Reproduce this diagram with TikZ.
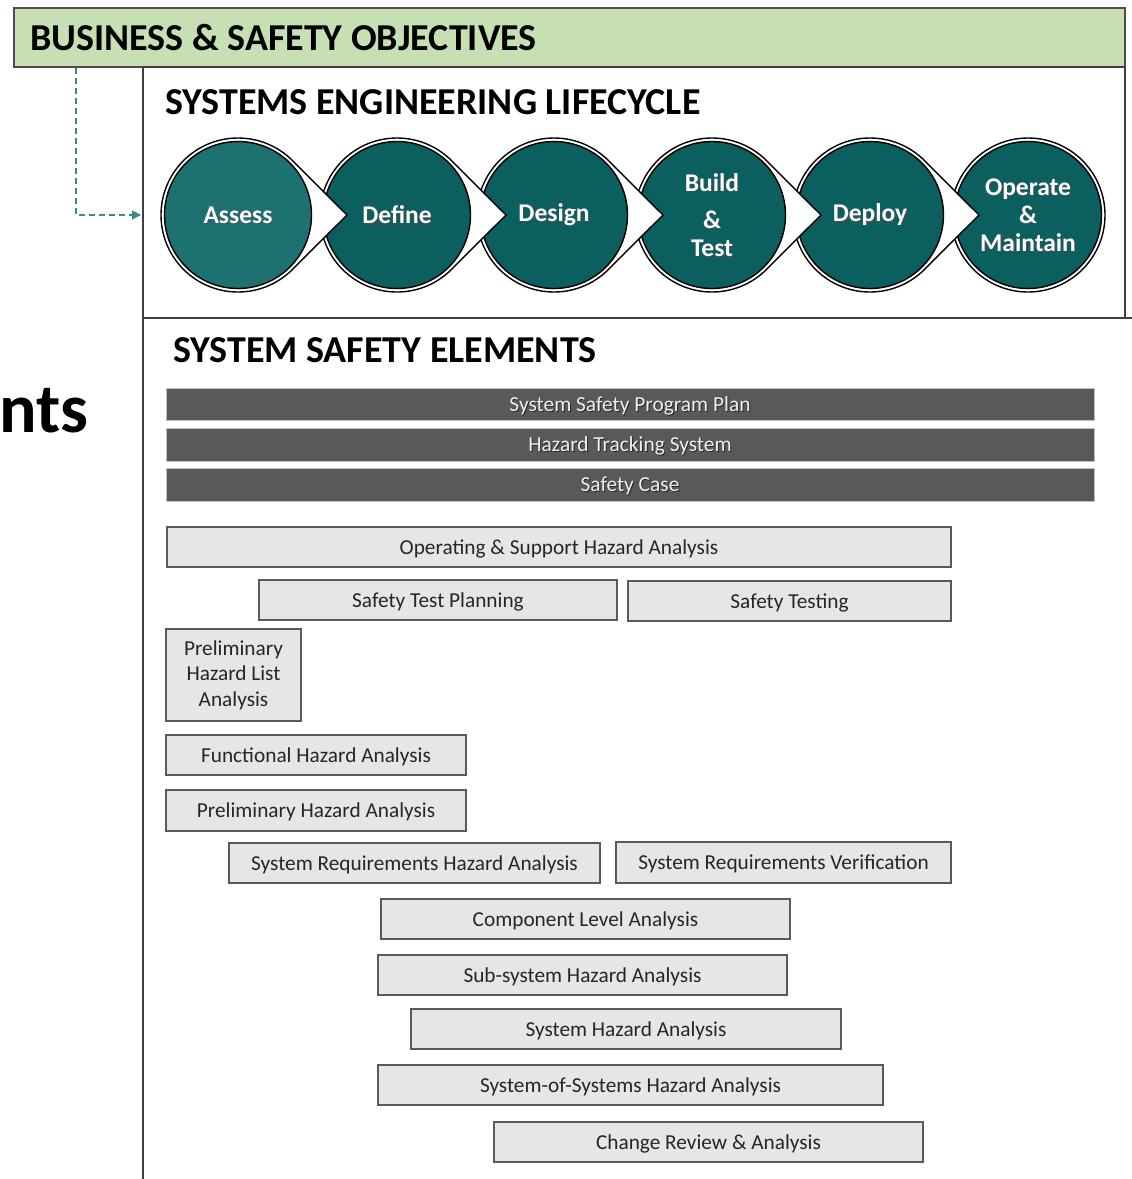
\documentclass[tikz,border=0pt]{standalone}
\usepackage{fontspec}
\setmainfont{Carlito}
\usetikzlibrary{arrows.meta,calc}
\definecolor{bannergreen}{HTML}{C6E0B4}
\definecolor{tealA}{HTML}{1E7171}
\definecolor{tealB}{HTML}{0B5F5F}
\definecolor{barfill}{HTML}{595959}
\definecolor{boxfill}{HTML}{E7E6E6}
\definecolor{boxline}{HTML}{5A5A5A}
\definecolor{dashteal}{HTML}{3A8A8C}
\definecolor{boxtext}{HTML}{262626}
\newcommand\lcstep[4]{%
  \coordinate (#3c) at (#1,215);
  \filldraw[fill=white, draw=black, line width=1.4] (#1+109,215) -- ($(#3c)+(45:77)$) arc[start angle=45,end angle=315,radius=77] -- cycle;
  \node[lcircle, fill=#2] (#3) at (#3c) {};
  \node[lctext, text=black!70, align=center, opacity=0.7] at ($(#3c)+(1.2,1.2)$) {#4};
  \node[lctext, align=center] at (#3c) {#4};
}
\begin{document}
\begin{tikzpicture}[x=1pt,y=-1pt,
  lcircle/.style={circle, draw=black, line width=1.4, minimum size=147, inner sep=0},
  lctext/.style={text=white, font=\bfseries\fontsize{25.5}{28}\selectfont, inner sep=0},
  title/.style={anchor=base west, inner sep=0, font=\bfseries\fontsize{38}{40}\selectfont},
  bar/.style={draw=black!25, line width=0.8, fill=barfill, inner sep=0},
  bartext/.style={font=\fontsize{21.4}{24}\selectfont, inner sep=0},
  ebox/.style={draw=boxline, line width=1.2, fill=boxfill, text=boxtext, font=\fontsize{21.3}{25.5}\selectfont, inner sep=0, align=center},
  sbox/.style={ebox, text height=17, text depth=3},
  frame/.style={draw=black!75, line width=1.2}]
\useasboundingbox (0,0) rectangle (1132,1179);

% banner
\node[draw=black!70, line width=1.2, fill=bannergreen, minimum width=1111, minimum height=59, inner sep=0] (banner) at (569.5,37.5) {};
\node[title] (bantitle) at (30,50) {BUSINESS \& SAFETY OBJECTIVES};

% lifecycle frame
\node[frame, minimum width=982, minimum height=251, inner sep=0] (life) at (634,192.5) {};
\node[title] (lifetitle) at (165,114) {SYSTEMS ENGINEERING LIFECYCLE};

% dashed connector
\coordinate (dstart) at (76,68);
\coordinate (dbend) at (76,215);
\coordinate (dend) at (141,215);
\draw[dashteal, dash pattern=on 6pt off 4pt, line width=1.2, -{Triangle[length=9,width=9]}] (dstart) -- (dbend) -- (dend);

% lifecycle steps (right to left for overlap)
\coordinate (operatec) at (1028,215);
\filldraw[fill=white, draw=black, line width=1.4] (operatec) circle[radius=77];
\node[lcircle, fill=tealB] (operate) at (operatec) {};
\node[lctext, text=black!70, align=center, opacity=0.7] at ($(operatec)+(1.2,1.2)$) {Operate\\\&\\Maintain};
\node[lctext, align=center] at (operatec) {Operate\\\&\\Maintain};
\lcstep{870}{tealB}{deploy}{Deploy}
\lcstep{712}{tealB}{build}{Build\\[9pt]\&\\Test}
\lcstep{554}{tealB}{design}{Design}
\lcstep{397}{tealB}{define}{Define}
\lcstep{238}{tealA}{assess}{Assess}

% safety elements frame
\coordinate (sfTL) at (143,318);
\coordinate (sfBL) at (143,1179);
\coordinate (sfTR) at (1132,318);
\draw[frame] (sfBL) -- (sfTL) -- (sfTR);
\node[title] (saftitle) at (173,362) {SYSTEM SAFETY ELEMENTS};

% cut-off heading at left
\node[anchor=base west, inner sep=0, font=\bfseries\fontsize{70}{74}\selectfont] (nts) at (-1,432) {nts};

% dark bars
\node[bar, minimum width=928, minimum height=32] (bar1) at (630,404) {};
\node[bar, minimum width=928, minimum height=33] (bar2) at (630,444.5) {};
\node[bar, minimum width=928, minimum height=33] (bar3) at (630,484.5) {};
\foreach \n/\t in {bar1/System Safety Program Plan, bar2/Hazard Tracking System, bar3/Safety Case}{
  \node[bartext, text=black, opacity=0.55] at ($(\n)+(1,2.5)$) {\t};
  \node[bartext, text=white!94!black] at ($(\n)+(0,1.5)$) {\t};
}

% element boxes
\node[sbox, minimum width=784, minimum height=40] (osha) at (559,547) {Operating \& Support Hazard Analysis};
\node[sbox, minimum width=358, minimum height=40] (stp) at (438,600) {Safety Test Planning};
\node[sbox, minimum width=323, minimum height=40] (st) at (789.5,601) {Safety Testing};
\node[ebox, minimum width=135, minimum height=92] (phl) at (233.5,675) {Preliminary\\Hazard List\\Analysis};
\node[sbox, minimum width=300, minimum height=40] (fha) at (316,755) {Functional Hazard Analysis};
\node[sbox, minimum width=300, minimum height=41] (pha) at (316,810.5) {Preliminary Hazard Analysis};
\node[sbox, minimum width=371, minimum height=40] (srha) at (414.5,863) {System Requirements Hazard Analysis};
\node[sbox, minimum width=335, minimum height=41] (srv) at (783.5,862.5) {System Requirements Verification};
\node[sbox, minimum width=409, minimum height=40] (cla) at (585.5,919) {Component Level Analysis};
\node[sbox, minimum width=409, minimum height=40] (ssha) at (582.5,975) {Sub-system Hazard Analysis};
\node[sbox, minimum width=430, minimum height=40] (sha) at (626,1029) {System Hazard Analysis};
\node[sbox, minimum width=505, minimum height=40] (sosha) at (630.5,1085) {System-of-Systems Hazard Analysis};
\node[sbox, minimum width=429, minimum height=40] (cra) at (708.5,1142) {Change Review \& Analysis};
\end{tikzpicture}
\end{document}
